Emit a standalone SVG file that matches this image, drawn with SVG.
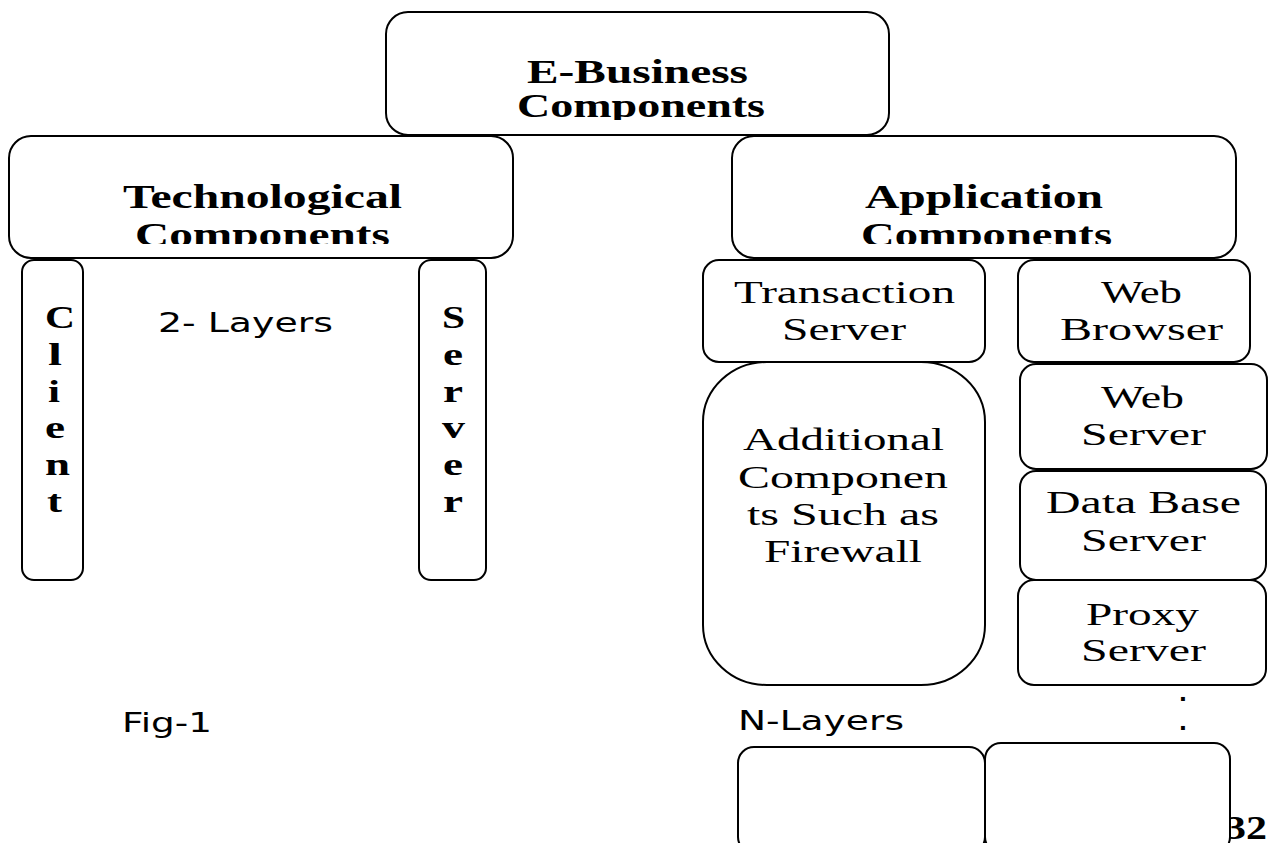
<svg xmlns="http://www.w3.org/2000/svg" width="1268" height="843" viewBox="0 0 1268 843">
<style>
.box{fill:#fff;stroke:#000;stroke-width:2}
.hb{font-family:"Liberation Serif","Times New Roman",serif;font-weight:bold;font-size:33px;fill:#000}
.tr{font-family:"Liberation Serif","Times New Roman",serif;font-size:32px;fill:#000}
.sn{font-family:"DejaVu Sans",Verdana,sans-serif;font-size:26px;fill:#000}
.dot{font-family:"DejaVu Sans",Verdana,sans-serif;font-weight:bold;font-size:22px;fill:#000}
.lt{font-family:"Liberation Serif","Times New Roman",serif;font-weight:bold;font-size:32px;fill:#000}
</style>
<defs>
<clipPath id="clipTop"><rect x="380" y="0" width="520" height="120"/></clipPath>
<clipPath id="clipTech"><rect x="0" y="130" width="520" height="114"/></clipPath>
<clipPath id="clipApp"><rect x="720" y="130" width="530" height="114"/></clipPath>
</defs>
<rect width="1268" height="843" fill="#fff"/>
<g id="connectors"/>

<g id="ebusiness">
<rect class="box" x="386" y="12" width="503" height="123" rx="22"/>
<g clip-path="url(#clipTop)">
<text class="hb" font-size="31"><tspan x="527" y="83" textLength="221" lengthAdjust="spacingAndGlyphs">E-Business</tspan><tspan x="517" y="117" textLength="248" lengthAdjust="spacingAndGlyphs">Components</tspan></text>
</g>
</g>

<g id="technological">
<rect class="box" x="9" y="136" width="504" height="122" rx="22"/>
<g clip-path="url(#clipTech)">
<text class="hb"><tspan x="123" y="208" textLength="279" lengthAdjust="spacingAndGlyphs">Technological</tspan><tspan x="135" y="246" textLength="255" lengthAdjust="spacingAndGlyphs">Components</tspan></text>
</g>
</g>

<g id="application">
<rect class="box" x="732" y="136" width="504" height="122" rx="22"/>
<g clip-path="url(#clipApp)">
<text class="hb"><tspan x="865" y="208" textLength="238" lengthAdjust="spacingAndGlyphs">Application</tspan><tspan x="861" y="246" textLength="251" lengthAdjust="spacingAndGlyphs">Components</tspan></text>
</g>
</g>

<g id="client">
<rect class="box" x="22" y="260" width="61" height="320" rx="12"/>
<text class="lt" x="45" y="328" textLength="30" lengthAdjust="spacingAndGlyphs">C</text>
<text class="lt" x="48" y="365" textLength="14" lengthAdjust="spacingAndGlyphs">l</text>
<text class="lt" x="48" y="402" textLength="12" lengthAdjust="spacingAndGlyphs">i</text>
<text class="lt" x="45" y="438" textLength="20" lengthAdjust="spacingAndGlyphs">e</text>
<text class="lt" x="45" y="475" textLength="25" lengthAdjust="spacingAndGlyphs">n</text>
<text class="lt" x="47" y="512" textLength="15" lengthAdjust="spacingAndGlyphs">t</text>
</g>

<g id="server">
<rect class="box" x="419" y="260" width="67" height="320" rx="12"/>
<text class="lt" x="442" y="328" textLength="23" lengthAdjust="spacingAndGlyphs">S</text>
<text class="lt" x="443" y="365" textLength="20" lengthAdjust="spacingAndGlyphs">e</text>
<text class="lt" x="443" y="402" textLength="20" lengthAdjust="spacingAndGlyphs">r</text>
<text class="lt" x="442" y="438" textLength="23" lengthAdjust="spacingAndGlyphs">v</text>
<text class="lt" x="443" y="475" textLength="20" lengthAdjust="spacingAndGlyphs">e</text>
<text class="lt" x="443" y="512" textLength="20" lengthAdjust="spacingAndGlyphs">r</text>
</g>

<g id="label-2layers">
<text class="sn" x="158" y="332" textLength="175" lengthAdjust="spacingAndGlyphs">2- Layers</text>
</g>

<g id="transaction">
<rect class="box" x="703" y="260" width="282" height="102" rx="16"/>
<text class="tr" x="734" y="303" textLength="221" lengthAdjust="spacingAndGlyphs">Transaction</text>
<text class="tr" x="782" y="340" textLength="124" lengthAdjust="spacingAndGlyphs">Server</text>
</g>

<g id="additional">
<rect class="box" x="703" y="362" width="282" height="323" rx="64" ry="60"/>
<text class="tr" x="743" y="450" textLength="201" lengthAdjust="spacingAndGlyphs">Additional</text>
<text class="tr" x="738" y="488" textLength="210" lengthAdjust="spacingAndGlyphs">Componen</text>
<text class="tr" x="747" y="525" textLength="192" lengthAdjust="spacingAndGlyphs">ts Such as</text>
<text class="tr" x="764" y="562" textLength="158" lengthAdjust="spacingAndGlyphs">Firewall</text>
</g>

<g id="webbrowser">
<rect class="box" x="1018" y="260" width="232" height="102" rx="16"/>
<text class="tr" x="1101" y="303" textLength="81" lengthAdjust="spacingAndGlyphs">Web</text>
<text class="tr" x="1060" y="340" textLength="163" lengthAdjust="spacingAndGlyphs">Browser</text>
</g>

<g id="webserver">
<rect class="box" x="1020" y="364" width="247" height="105" rx="16"/>
<text class="tr" x="1101" y="408" textLength="83" lengthAdjust="spacingAndGlyphs">Web</text>
<text class="tr" x="1081" y="445" textLength="125" lengthAdjust="spacingAndGlyphs">Server</text>
</g>

<g id="database">
<rect class="box" x="1020" y="471" width="246" height="109" rx="16"/>
<text class="tr" x="1046" y="513" textLength="195" lengthAdjust="spacingAndGlyphs">Data Base</text>
<text class="tr" x="1081" y="551" textLength="125" lengthAdjust="spacingAndGlyphs">Server</text>
</g>

<g id="proxy">
<rect class="box" x="1018" y="580" width="248" height="105" rx="16"/>
<text class="tr" x="1086" y="625" textLength="113" lengthAdjust="spacingAndGlyphs">Proxy</text>
<text class="tr" x="1081" y="661" textLength="125" lengthAdjust="spacingAndGlyphs">Server</text>
</g>

<g id="dots">
<text class="dot" x="1183" y="701" text-anchor="middle">.</text>
<text class="dot" x="1183" y="730" text-anchor="middle">.</text>
</g>

<g id="label-nlayers">
<text class="sn" x="738" y="730" textLength="166" lengthAdjust="spacingAndGlyphs">N-Layers</text>
</g>

<g id="label-fig1">
<text class="sn" x="122" y="732" textLength="90" lengthAdjust="spacingAndGlyphs">Fig-1</text>
</g>

<g id="pagenum">
<text class="hb" x="1225" y="839" font-size="37" textLength="42" lengthAdjust="spacingAndGlyphs">32</text>
</g>

<g id="bottom-left">
<rect class="box" x="738" y="747" width="247" height="106" rx="16"/>
</g>
<g id="bottom-right">
<rect class="box" x="985" y="743" width="245" height="110" rx="16"/>
</g>
</svg>
